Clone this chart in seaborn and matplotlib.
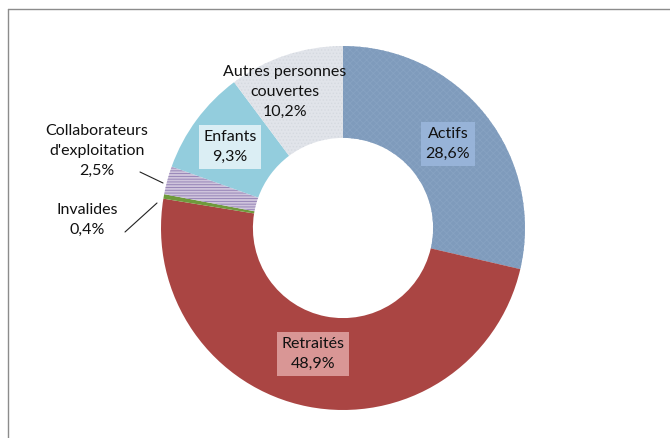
import matplotlib
matplotlib.use("Agg")
import matplotlib.pyplot as plt
import seaborn as sns

sns.set_theme(style="white")
plt.rcParams['font.family'] = ['Lato', 'DejaVu Sans']
plt.rcParams['hatch.linewidth'] = 0.6

categories = ["Actifs", "Retraités", "Invalides", "Collaborateurs\nd'exploitation", "Enfants", "Autres personnes\ncouvertes"]
values = [28.6, 48.9, 0.4, 2.5, 9.3, 10.2]
pct_labels = ["28,6%", "48,9%", "0,4%", "2,5%", "9,3%", "10,2%"]

colors = ["#7f9bbc", "#aa4543", "#6f9a3c", "#cfc4dc", "#93cddd", "#e1e4ea"]
hatch_cols = ["#87a2c2", "#aa4543", "#6f9a3c", "#8f7cb2", "#93cddd", "#d5d9e0"]
hatches = ["xxxxx", None, None, "------", None, "....."]
box_cols = ["#97b3d8", "#d99695", None, None, "#dbeef4", None]

W, H = 670, 438
fig = plt.figure(figsize=(W / 100, H / 100), dpi=100)
ax = fig.add_axes([0, 0, 1, 1])
s = 182.0
cx, cy = 343, 228

wedges, _ = ax.pie(values, startangle=90, counterclock=False, colors=colors,
                   radius=1.0, wedgeprops=dict(width=0.505, linewidth=0))
for w, h, hc in zip(wedges, hatches, hatch_cols):
    if h:
        w.set_hatch(h)
        w.set_edgecolor(hc)
        w.set_linewidth(0)

ax.set_xlim(-cx / s, (W - cx) / s)
ax.set_ylim(-(H - cy) / s, cy / s)
ax.set_aspect("equal")
ax.axis("off")


def px(x, y):
    return ((x - cx) / s, (cy - y) / s)

label_pos = [(448, 144), (313, 354), (87, 220), (97, 151), (230, 147), (285, 92)]
fs = 11.5
for i, (cat, pl) in enumerate(zip(categories, pct_labels)):
    x, y = px(*label_pos[i])
    bbox = None
    if box_cols[i]:
        bbox = dict(boxstyle="square,pad=0.3", facecolor=box_cols[i], edgecolor="none")
    ax.text(x, y, f"{cat}\n{pl}", ha="center", va="center", fontsize=fs,
            color="#111111", bbox=bbox, linespacing=1.55)

# leader lines
for (x0, y0), (x1, y1) in [((140, 172), (163, 183)), ((125, 232), (157, 203))]:
    a = px(x0, y0); b = px(x1, y1)
    ax.plot([a[0], b[0]], [a[1], b[1]], color="#222222", lw=0.8)

# frame
fig.add_artist(plt.Line2D([8 / W, 1], [1 - 9 / H, 1 - 9 / H], transform=fig.transFigure, color="#8c8c8c", lw=1))
fig.add_artist(plt.Line2D([8 / W, 8 / W], [0, 1 - 9 / H], transform=fig.transFigure, color="#8c8c8c", lw=1))

fig.savefig("out.png", dpi=100)
